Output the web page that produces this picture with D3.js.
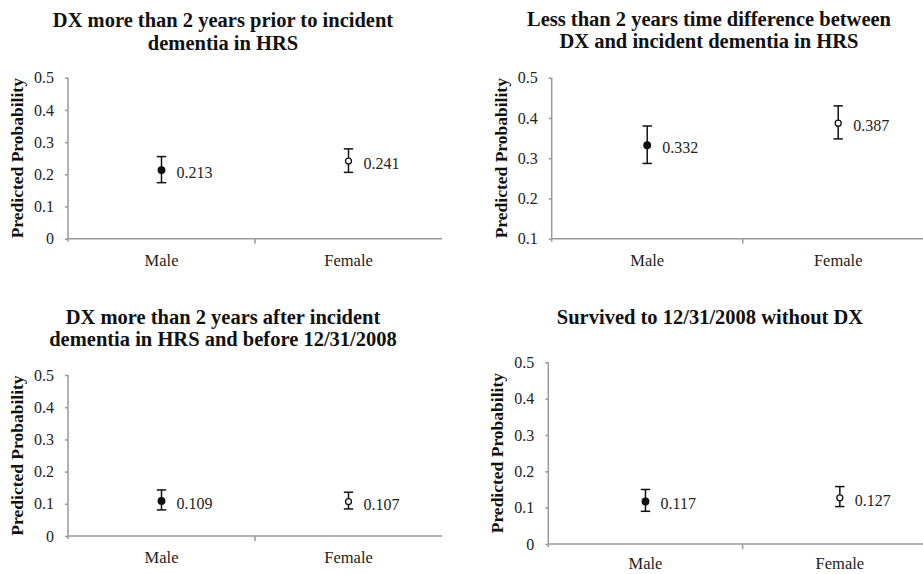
<!DOCTYPE html>
<html>
<head>
<meta charset="utf-8">
<script src="https://cdn.jsdelivr.net/npm/d3@7"></script>
<style>
  body { margin: 0; background: #fff; }
  svg { font-family: "Liberation Serif", "Times New Roman", serif; }
  .axis path, .axis line { stroke: #999; stroke-width: 1.5; }
  .axis text { font-family: "Liberation Serif", "Times New Roman", serif; font-size: 16px; fill: #222; }
</style>
</head>
<body>
<script>
var categories = ['Male', 'Female'];

var titles = [
  ['DX more than 2 years prior to incident', 'dementia in HRS'],
  ['Less than 2 years time difference between', 'DX and incident dementia in HRS'],
  ['DX more than 2 years after incident', 'dementia in HRS and before 12/31/2008'],
  ['Survived to 12/31/2008 without DX']
];

// predicted probability, per panel: [male, female]
var values = [[0.213, 0.241], [0.332, 0.387], [0.109, 0.107], [0.117, 0.127]];
var lower = [[0.174, 0.206], [0.287, 0.348], [0.081, 0.084], [0.090, 0.103]];
var upper = [[0.255, 0.279], [0.380, 0.430], [0.143, 0.136], [0.150, 0.158]];

var yDomains = [[0, 0.5], [0.1, 0.5], [0, 0.5], [0, 0.5]];
var yTicks = [
  [0, 0.1, 0.2, 0.3, 0.4, 0.5],
  [0.1, 0.2, 0.3, 0.4, 0.5],
  [0, 0.1, 0.2, 0.3, 0.4, 0.5],
  [0, 0.1, 0.2, 0.3, 0.4, 0.5]
];

// plot boxes (pixels) and title placement
var boxes = [
  {left: 68, right: 442, top: 77.7, bottom: 238.7, tx: 223, ty: 27, cy: 27},
  {left: 551.7, right: 933.7, top: 77.7, bottom: 238.7, tx: 709, ty: 25.5, cy: 27},
  {left: 68, right: 442, top: 375, bottom: 536, tx: 223, ty: 323.5, cy: 27},
  {left: 548.3, right: 937, top: 362.3, bottom: 544, tx: 710, ty: 323.5, cy: 25}
];

var svg = d3.select("body")
  .append("svg")
    .attr("width", 923)
    .attr("height", 574);

boxes.forEach(function(b, i) {
  var g = svg.append("g");

  var x = d3.scaleBand()
    .domain(categories)
    .range([b.left, b.right]);

  var y = d3.scaleLinear()
    .domain(yDomains[i])
    .range([b.bottom, b.top]);

  // title
  titles[i].forEach(function(line, k) {
    g.append("text")
      .attr("x", b.tx)
      .attr("y", b.ty + k * 22.5)
      .attr("text-anchor", "middle")
      .style("font-size", "20.5px")
      .style("font-weight", "bold")
      .attr("fill", "#111")
      .text(line);
  });

  // y axis
  var ya = g.append("g")
    .attr("class", "axis")
    .attr("transform", "translate(" + b.left + ",0)")
    .call(d3.axisLeft(y).tickValues(yTicks[i]).tickSize(3).tickPadding(11)
      .tickFormat(function(d) { return d === 0 ? "0" : d3.format(".1f")(d); }));
  ya.select(".domain").attr("d", "M0," + b.top + "V" + (b.bottom + 3));

  // x axis
  var xa = g.append("g")
    .attr("class", "axis")
    .attr("transform", "translate(0," + b.bottom + ")")
    .call(d3.axisBottom(x).tickSize(0).tickPadding(0));
  xa.select(".domain").attr("d", "M" + b.left + ",0H" + b.right);
  xa.selectAll(".tick text").attr("dy", null).attr("y", b.cy).style("font-size", "16.5px");
  xa.append("line")
    .attr("x1", x('Female')).attr("x2", x('Female'))
    .attr("y1", 0).attr("y2", 5);

  // y label
  g.append("text")
    .attr("transform", "translate(" + (b.left - 45) + "," + ((b.top + b.bottom) / 2) + ") rotate(-90)")
    .attr("text-anchor", "middle")
    .style("font-size", "17.5px")
    .style("font-weight", "bold")
    .attr("fill", "#111")
    .text("Predicted Probability");

  // error bars and points
  categories.forEach(function(c, j) {
    var cx = x(c) + x.bandwidth() / 2;
    g.append("line")
      .attr("x1", cx).attr("x2", cx)
      .attr("y1", y(lower[i][j])).attr("y2", y(upper[i][j]))
      .attr("stroke", "#111").attr("stroke-width", 1.5);
    [lower[i][j], upper[i][j]].forEach(function(v) {
      g.append("line")
        .attr("x1", cx - 4.7).attr("x2", cx + 4.7)
        .attr("y1", y(v)).attr("y2", y(v))
        .attr("stroke", "#111").attr("stroke-width", 1.5);
    });
    g.append("circle")
      .attr("cx", cx).attr("cy", y(values[i][j]))
      .attr("r", j === 0 ? 3.3 : 3)
      .attr("fill", j === 0 ? "#111" : "#fff")
      .attr("stroke", "#111").attr("stroke-width", 1.3);
    g.append("text")
      .attr("x", cx + 15)
      .attr("y", y(values[i][j]) + 8)
      .style("font-size", "16px")
      .attr("fill", "#222")
      .text(d3.format(".3f")(values[i][j]));
  });
});
</script>
</body>
</html>
